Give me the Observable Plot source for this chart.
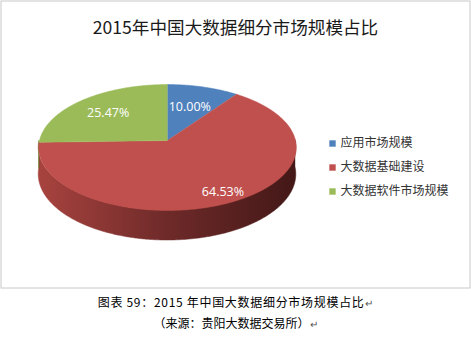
<!DOCTYPE html>
<html>
<head>
<meta charset="utf-8">
<script src="https://cdn.jsdelivr.net/npm/d3@7"></script>
<script src="https://cdn.jsdelivr.net/npm/@observablehq/plot@0.6"></script>
<style>
  html, body { margin: 0; padding: 0; background: #fff; }
  #wrap { position: relative; width: 471px; height: 340px; }
  #chart { position: absolute; left: 0; top: 0; }
  .cap { position: absolute; left: 0; width: 471px; text-align: center;
         font-family: "Noto Sans CJK SC", sans-serif; font-size: 12px; color: #000; line-height: 16px; }
  .pm { color: #555; font-size: 10px; }
</style>
</head>
<body>
<div id="wrap">
  <div id="chart"></div>
  <div class="cap" style="top:294px; letter-spacing:0.7px;">图表 59：2015 年中国大数据细分市场规模占比<span class="pm">↵</span></div>
  <div class="cap" style="top:315px;">（来源：贵阳大数据交易所）<span class="pm">↵</span></div>
</div>
<script>
// ---- data ----
const names  = ["应用市场规模", "大数据基础建设", "大数据软件市场规模"];
const shares = [10.00, 64.53, 25.47];
const labels = ["10.00%", "64.53%", "25.47%"];
const title  = "2015年中国大数据细分市场规模占比";

// ---- style ----
const colors    = ["#4F81BD", "#C0504D", "#9BBB59"];
const sideFills = ["url(#side0)", "url(#side1)", "url(#side2)"];
const sideStops = [
  [["0", "#3f6896"], ["1", "#243c57"]],
  [["0", "#a8433f"], ["0.5", "#6e2a29"], ["1", "#431817"]],
  [["0", "#7c9746"], ["1", "#4a5a2a"]]
];
const labelR = [0.6, 0.85, 0.68];

// ---- 3D pie geometry (perspective) ----
const CX = 167, CY = 140, RX = 128, K = 62.2, D = 9, H = 26.7;
function proj(theta, r, z) {
  const u = r * Math.sin(theta), v = -r * Math.cos(theta);
  const s = D / (D - v);
  return [CX + RX * u * s, CY + (K * v + z) * s];
}
const total = d3.sum(shares);
let acc = 0;
const slices = shares.map((v, i) => {
  const a0 = acc / total * 2 * Math.PI;
  acc += v;
  const a1 = acc / total * 2 * Math.PI;
  return {name: names[i], i, a0, a1};
});

const step = Math.PI / 360;
function arcAngles(a0, a1) {
  const n = Math.max(2, Math.ceil((a1 - a0) / step));
  return d3.range(n + 1).map(k => a0 + (a1 - a0) * k / n);
}

// top faces
const topData = slices.flatMap(s => {
  const [cx, cy] = proj(0, 0, 0);
  const pts = [{name: s.name, x: cx, y: cy}];
  for (const a of arcAngles(s.a0, s.a1)) {
    const [x, y] = proj(a, 1, 0);
    pts.push({name: s.name, x, y});
  }
  return pts;
});

// visible side walls (front half: angle between PI/2 and 3PI/2)
const sideMarks = slices.map(s => {
  const lo = Math.max(s.a0, Math.PI / 2), hi = Math.min(s.a1, 3 * Math.PI / 2);
  if (hi <= lo) return null;
  const data = arcAngles(lo, hi).map(a => {
    const [x, y1] = proj(a, 1, 0);
    const [, y2] = proj(a, 1, H);
    return {x, y1, y2};
  });
  return Plot.area(data, {x1: "x", y1: "y1", x2: "x", y2: "y2", fill: sideFills[s.i], stroke: sideFills[s.i], strokeWidth: 0.5});
}).filter(Boolean);

// labels
const labelData = slices.map(s => {
  const [x, y] = proj((s.a0 + s.a1) / 2, labelR[s.i], 0);
  return {x, y, text: labels[s.i]};
});

// legend
const legendData = names.map((n, i) => ({name: n, x: 332, y: 143 + i * 24}));

const plot = Plot.plot({
  width: 470, height: 288,
  margin: 0,
  x: {type: "identity", axis: null},
  y: {type: "identity", axis: null},
  color: {domain: names, range: colors},
  style: {background: "#fff", overflow: "visible"},
  marks: [
    Plot.frame({stroke: "#c8c8c8", inset: 0.5}),
    Plot.text([title], {x: () => 235, y: () => 28, text: d => d, fontSize: 17.6,
      fontFamily: "'Noto Sans CJK SC', sans-serif", fill: "#1a1a1a"}),
    ...sideMarks,
    Plot.line(topData, {x: "x", y: "y", z: "name", fill: "name", stroke: "name", strokeWidth: 0.5, curve: "linear"}),
    Plot.text(labelData, {x: "x", y: "y", text: "text", fill: "white", fontSize: 12.5,
      fontFamily: "'Open Sans', sans-serif"}),
    Plot.dot(legendData, {x: "x", y: "y", symbol: "square", r: 3.6, fill: "name", stroke: null}),
    Plot.text(legendData, {x: d => d.x + 8, y: "y", text: "name", textAnchor: "start", fontSize: 12,
      fontFamily: "'Noto Sans CJK SC', sans-serif", fill: "#333"})
  ]
});

// gradient definitions for side walls
const defs = d3.select(plot).insert("defs", ":first-child");
sideStops.forEach((stops, i) => {
  const g = defs.append("linearGradient").attr("id", "side" + i)
    .attr("x1", "0").attr("x2", "1").attr("y1", "0").attr("y2", "0");
  stops.forEach(([o, c]) => g.append("stop").attr("offset", o).attr("stop-color", c));
});

document.getElementById("chart").appendChild(plot);
</script>
</body>
</html>
